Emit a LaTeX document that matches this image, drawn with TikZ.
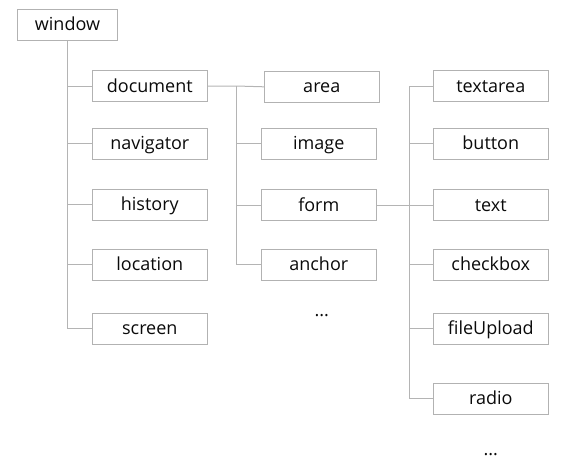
\documentclass[tikz,border=0pt]{standalone}
\usepackage{fontspec}
\setmainfont{Open Sans}
\definecolor{boxline}{HTML}{B2B2B2}
\definecolor{linkline}{HTML}{B4B4B4}
\definecolor{txt}{HTML}{0A0A0A}
\begin{document}
\begin{tikzpicture}[x=1pt,y=-1pt,
  box/.style={draw=boxline, line width=1pt, minimum width=115pt, minimum height=31pt,
    inner sep=0pt, text=txt, text height=13.5pt, text depth=1.5pt,
    font=\fontsize{18}{21}\selectfont},
  link/.style={draw=linkline, line width=1pt},
  dots/.style={text=txt, font=\fontsize{18}{21}\selectfont, inner sep=0pt}]
\useasboundingbox (0,0) rectangle (571,472);
% column 1
\node[box, minimum width=100pt] (window) at (67.5,24.7) {window};
\node[box] (document) at (149.8,86) {document};
\node[box] (navigator) at (149.8,143.5) {navigator};
\node[box] (history) at (149.8,204.5) {history};
\node[box] (location) at (149.8,264.7) {location};
\node[box] (screen) at (149.8,328.7) {screen};
% column 2
\node[box] (area) at (321.8,86.8) {area};
\node[box] (image) at (318.8,143.7) {image};
\node[box] (form) at (318.8,205.3) {form};
\node[box] (anchor) at (318.8,264.7) {anchor};
\node[dots] (dotsA) at (321.7,316) {...};
% column 3
\node[box] (textarea) at (490.8,86) {textarea};
\node[box] (button) at (490.8,143.7) {button};
\node[box] (text) at (490.8,205.3) {text};
\node[box] (checkbox) at (490.8,264.7) {checkbox};
\node[box] (fileUpload) at (490.8,328.7) {fileUpload};
\node[box] (radio) at (490.8,398.7) {radio};
\node[dots] (dotsB) at (490.7,455) {...};
% trunks
\coordinate (t2) at (236.3,86.5);
\coordinate (t3) at (409,86);
% connectors column 1
\draw[link] (window.south) -- (window.south |- screen.west) -- (screen.west);
\foreach \n in {document,navigator,history,location}
  \draw[link] (window.south |- \n.west) -- (\n.west);
% connectors column 2
\draw[link] (document.east) -- (t2 |- document.east) -- (area.west);
\draw[link] (t2 |- document.east) -- (t2 |- anchor.west) -- (anchor.west);
\foreach \n in {image,form}
  \draw[link] (t2 |- \n.west) -- (\n.west);
% connectors column 3
\draw[link] (form.east) -- (text.west);
\draw[link] (textarea.west) -- (t3) -- (t3 |- radio.west) -- (radio.west);
\foreach \n in {button,checkbox,fileUpload}
  \draw[link] (t3 |- \n.west) -- (\n.west);
\end{tikzpicture}
\end{document}
